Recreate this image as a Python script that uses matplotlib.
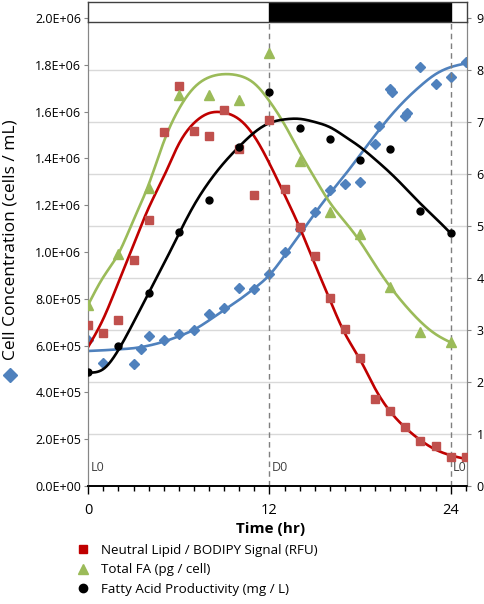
import numpy as np
import matplotlib
matplotlib.use("Agg")
import matplotlib.pyplot as plt
from matplotlib.lines import Line2D

plt.rcParams['font.family'] = ['Open Sans', 'DejaVu Sans']

# ---------------- data (measured points) ----------------
hours_lipid = [0, 1, 2, 3, 4, 5, 6, 7, 8, 9, 10, 11, 12, 13, 14, 15, 16, 17, 18,
               19, 20, 21, 22, 23, 24, 25]
lipid = [3.10, 2.95, 3.19, 4.35, 5.12, 6.81, 7.70, 6.83, 6.73, 7.23, 6.48, 5.60,
         7.03, 5.72, 4.98, 4.43, 3.62, 3.01, 2.46, 1.67, 1.44, 1.13, 0.87, 0.76,
         0.56, 0.56]

hours_fa = [0, 2, 4, 6, 8, 10, 12, 14, 16, 18, 20, 22, 24]
total_fa = [3.49, 4.47, 5.74, 7.51, 7.51, 7.42, 8.32, 6.25, 5.26, 4.85, 3.82, 2.97, 2.76]
fa_prod = [2.19, 2.69, 3.71, 4.89, 5.50, 6.51, 7.58, 6.89, 6.68, 6.27, 6.49, 5.29, 4.86]

hours_cells = [0, 1, 3, 3.5, 4, 5, 6, 7, 8, 9, 10, 11, 12, 13, 14, 15, 16, 17, 18,
               19, 19.25, 20, 20.1, 21, 21.1, 22, 23, 24, 25]
cells = [6.24e5, 5.27e5, 5.21e5, 5.84e5, 6.43e5, 6.24e5, 6.50e5, 6.67e5, 7.34e5,
         7.59e5, 8.48e5, 8.44e5, 9.08e5, 1.002e6, 1.10e6, 1.172e6, 1.265e6,
         1.29e6, 1.30e6, 1.46e6, 1.538e6, 1.695e6, 1.682e6, 1.582e6, 1.595e6,
         1.789e6, 1.717e6, 1.747e6, 1.81e6]

# ---------------- fitted trend curves ----------------
trend_hours_25 = list(range(0, 26))
trend_hours_24 = list(range(0, 25))
lipid_trend = [2.68, 3.22, 3.92, 4.64, 5.35, 5.95, 6.58, 6.98, 7.17, 7.18, 7.05,
               6.72, 6.20, 5.60, 4.97, 4.27, 3.58, 2.93, 2.43, 1.87, 1.43, 1.12,
               0.88, 0.70, 0.59, 0.52]
total_fa_trend = [3.49, 4.02, 4.47, 5.12, 5.80, 6.62, 7.25, 7.66, 7.86, 7.92, 7.89,
                  7.74, 7.40, 6.95, 6.42, 5.92, 5.45, 5.08, 4.70, 4.25, 3.83, 3.47,
                  3.16, 2.92, 2.76]
fa_prod_trend = [2.18, 2.25, 2.62, 3.15, 3.71, 4.27, 4.85, 5.40, 5.85, 6.22, 6.53,
                 6.80, 6.98, 7.05, 7.06, 7.00, 6.90, 6.72, 6.52, 6.28, 6.02, 5.73,
                 5.43, 5.15, 4.86]
cells_trend = [5.77e5, 5.80e5, 5.84e5, 5.89e5, 6.00e5, 6.17e5, 6.40e5, 6.68e5,
               7.08e5, 7.52e5, 7.96e5, 8.45e5, 9.02e5, 9.85e5, 1.075e6, 1.165e6,
               1.25e6, 1.33e6, 1.415e6, 1.50e6, 1.58e6, 1.65e6, 1.71e6, 1.76e6,
               1.79e6, 1.806e6]

left_ticks = [0, 2e5, 4e5, 6e5, 8e5, 1e6, 1.2e6, 1.4e6, 1.6e6, 1.8e6, 2e6]
right_ticks = [0, 1, 2, 3, 4, 5, 6, 7, 8, 9]
x_major = [0, 12, 24]
phase_labels = ['L0', 'D0', 'L0']
phase_x = [0, 12, 24]

legend_labels = ['Neutral Lipid / BODIPY Signal (RFU)', 'Total FA (pg / cell)',
                 'Fatty Acid Productivity (mg / L)']

RED_M, RED_L = '#C0504D', '#C00000'
GREEN = '#9BBB59'
BLUE = '#4F81BD'
GRID = '#D9D9D9'
SPINE = '#868686'


def smooth(x, y, n=400):
    """Natural cubic spline through the trend points."""
    x = np.asarray(x, float)
    y = np.asarray(y, float)
    m = len(x)
    h = np.diff(x)
    A = np.zeros((m, m))
    b = np.zeros(m)
    A[0, 0] = A[-1, -1] = 1
    for i in range(1, m - 1):
        A[i, i - 1] = h[i - 1]
        A[i, i] = 2 * (h[i - 1] + h[i])
        A[i, i + 1] = h[i]
        b[i] = 6 * ((y[i + 1] - y[i]) / h[i] - (y[i] - y[i - 1]) / h[i - 1])
    M = np.linalg.solve(A, b)
    xs = np.linspace(x[0], x[-1], n)
    idx = np.clip(np.searchsorted(x, xs) - 1, 0, m - 2)
    x0_, x1_ = x[idx], x[idx + 1]
    hh = x1_ - x0_
    t0, t1 = x1_ - xs, xs - x0_
    ys = (M[idx] * t0 ** 3 / (6 * hh) + M[idx + 1] * t1 ** 3 / (6 * hh)
          + (y[idx] / hh - M[idx] * hh / 6) * t0 + (y[idx + 1] / hh - M[idx + 1] * hh / 6) * t1)
    return xs, ys


W, H = 484, 604
fig = plt.figure(figsize=(W / 100, H / 100), dpi=100)
x0, x1 = 88.3, 466.7
ytop, ybot = 18, 486
ax = fig.add_axes([x0 / W, 1 - ybot / H, (x1 - x0) / W, (ybot - ytop) / H])
ax2 = ax.twinx()

xmax = 25.06
ax.set_xlim(0, xmax)
ax.set_ylim(0, 2e6)
ax2.set_ylim(0, 9)

# gridlines at right axis ticks (drawn on the lower axes)
ax.set_yticks([t * 2e6 / 9 for t in right_ticks[1:-1]], minor=True)
ax.yaxis.grid(True, which='minor', color=GRID, lw=1.0)
ax.tick_params(axis='y', which='minor', length=0)
ax.set_axisbelow(True)

# cells (left axis)
xs, ys = smooth(trend_hours_25, cells_trend)
ax.plot(xs, ys, color=BLUE, lw=1.9, zorder=2)
ax.plot(hours_cells, cells, ls='none', marker='D', ms=5.2, color=BLUE, mec=BLUE, zorder=3)

# right-axis series
for tx, ty, lc in [(trend_hours_25, lipid_trend, RED_L),
                   (trend_hours_24, total_fa_trend, GREEN),
                   (trend_hours_24, fa_prod_trend, 'black')]:
    xs, ys = smooth(tx, ty)
    ax2.plot(xs, ys, color=lc, lw=1.9, zorder=2)
ax2.plot(hours_lipid, lipid, ls='none', marker='s', ms=6.0, color=RED_M, zorder=3)
ax2.plot(hours_fa, total_fa, ls='none', marker='^', ms=7.2, color=GREEN, zorder=3)
ax2.plot(hours_fa, fa_prod, ls='none', marker='o', ms=5.0, color='black', zorder=3)

for xv in x_major[1:]:
    ax2.axvline(xv, color='#7F7F7F', ls=(0, (4, 3)), lw=1.0, zorder=1)

for xv, lab in zip(phase_x, phase_labels):
    ax2.text(xv + 0.15, 0.35, lab, fontsize=9, color='#404040', va='center', ha='left')

# axes styling
ax.set_yticks(left_ticks)
ax.set_yticklabels([f"{v:.1E}" for v in left_ticks], fontsize=9)
ax.tick_params(axis='y', which='major', direction='out', length=3, color=SPINE, pad=2)
ax2.set_yticks(right_ticks)
ax2.tick_params(axis='y', direction='out', length=3, color=SPINE, labelsize=9, pad=4)

ax.set_xticks(x_major)
ax.set_xticklabels([str(v) for v in x_major], fontsize=10.5)
ax.set_xticks(np.arange(0, 26, 1), minor=True)
ax.tick_params(axis='x', which='major', direction='out', length=6, width=1, color='black', pad=6)
ax.tick_params(axis='x', which='minor', direction='out', length=3.5, width=1, color='black')

for a in (ax, ax2):
    a.spines['top'].set_visible(False)
    a.spines['left'].set_color(SPINE)
    a.spines['right'].set_color(SPINE)
    a.spines['bottom'].set_color('black')
    a.spines['bottom'].set_linewidth(1.2)

# top light/dark bar
axb = fig.add_axes([x0 / W, 1 - 22 / H, (x1 - x0) / W, 20 / H])
axb.set_xlim(0, xmax)
axb.set_ylim(0, 1)
axb.axvspan(x_major[1], x_major[2], color='black')
axb.set_xticks([])
axb.set_yticks([])
for s in axb.spines.values():
    s.set_color('#404040')
    s.set_linewidth(1.0)

# labels
fig.text(271 / W, 1 - 529 / H, 'Time (hr)', fontsize=11, fontweight='bold',
         ha='center', va='center')
fig.text(11 / W, 1 - 240 / H, 'Cell Concentration (cells / mL)', fontsize=12.5,
         rotation=90, ha='center', va='center')
fig.add_artist(Line2D([10 / W], [1 - 375 / H], marker='D', ms=7, color=BLUE,
                      transform=fig.transFigure))

handles = [Line2D([], [], ls='none', marker='s', ms=6, color=RED_L),
           Line2D([], [], ls='none', marker='^', ms=7, color=GREEN),
           Line2D([], [], ls='none', marker='o', ms=6, color='black')]
fig.legend(handles, legend_labels, loc='upper left', bbox_to_anchor=(74 / W, 1 - 544 / H),
           frameon=False, fontsize=9.6, handlelength=1.3, handletextpad=0.7,
           labelspacing=0.48, borderpad=0, borderaxespad=0)

fig.savefig('out.png', dpi=100)
